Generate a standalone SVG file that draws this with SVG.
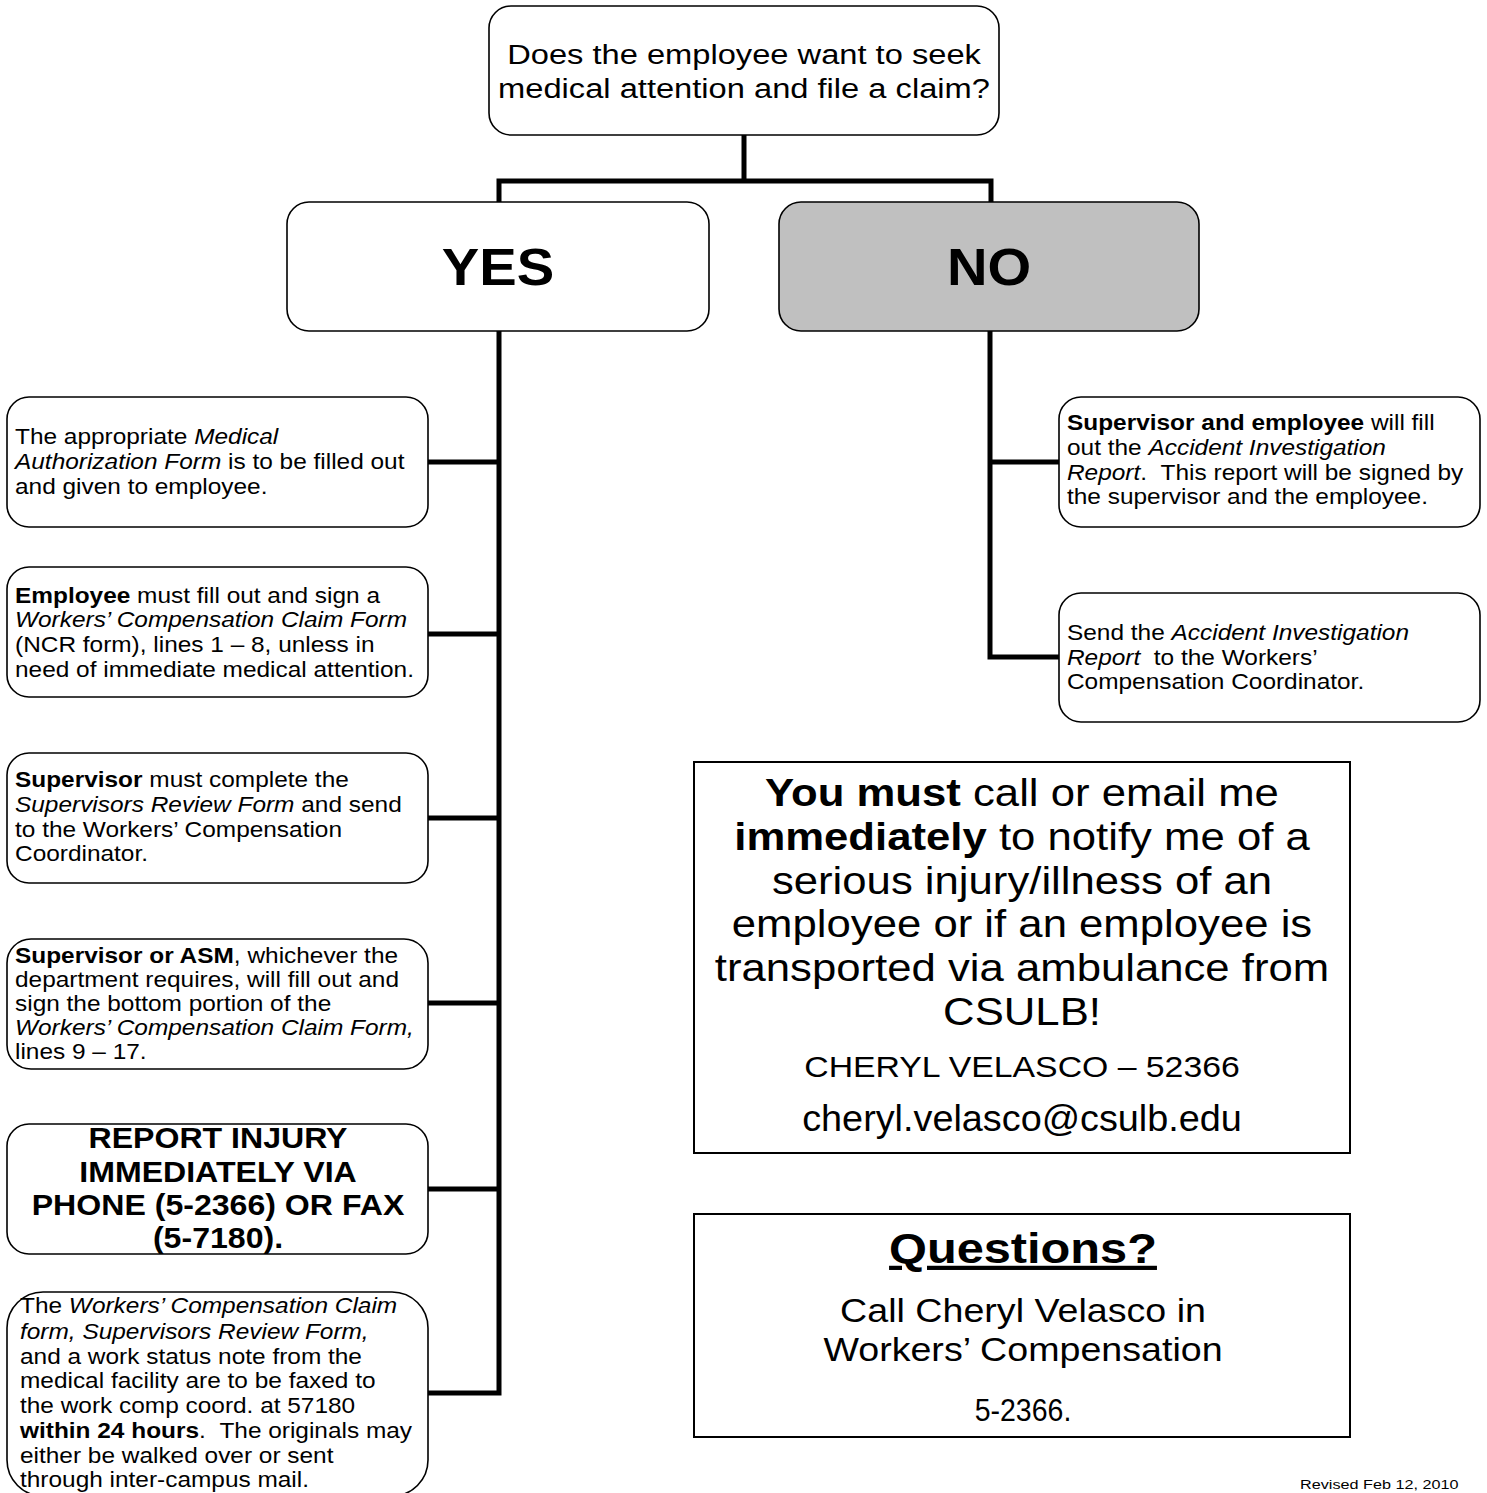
<svg xmlns="http://www.w3.org/2000/svg" width="1487" height="1493" viewBox="0 0 1487 1493">
<style>
.box{fill:#fff;stroke:#000;stroke-width:1.6}
.gray{fill:#c0c0c0}
.sq{fill:#fff;stroke:#000;stroke-width:2}
.conn{stroke:#000;stroke-width:5;fill:none;stroke-linecap:square}
text{font-family:"Liberation Sans",Arial,sans-serif;fill:#000}
.s22{font-size:22px}
.b{font-weight:bold}
.i{font-style:italic}
</style>
<rect width="1487" height="1493" fill="#fff"/>
<g id="connectors">
<path class="conn" d="M744 135 V181 M499 181 H991 M499 181 V202 M991 181 V202"/>
<path class="conn" d="M499 331 V1393 M428 462 H499 M428 634 H499 M428 818 H499 M428 1003 H499 M428 1189 H499 M428 1393 H499"/>
<path class="conn" d="M990 331 V657 M990 462 H1059 M990 657 H1059"/>
</g>
<g id="question">
<rect class="box" x="489" y="6" width="510" height="129" rx="22"/>
<g transform="translate(744 0) scale(1.21 1)">
<text x="0" y="64" font-size="27" text-anchor="middle">Does the employee want to seek</text>
<text x="0" y="98" font-size="27" text-anchor="middle">medical attention and file a claim?</text>
</g>
</g>
<g id="yes">
<rect class="box" x="287" y="202" width="422" height="129" rx="22"/>
<text transform="translate(498 285) scale(1.08 1)" x="0" y="0" font-size="52" class="b" text-anchor="middle">YES</text>
</g>
<g id="no">
<rect class="box gray" x="779" y="202" width="420" height="129" rx="22"/>
<text transform="translate(989 285) scale(1.08 1)" x="0" y="0" font-size="52" class="b" text-anchor="middle">NO</text>
</g>
<g id="yes1">
<rect class="box" x="7" y="397" width="421" height="130" rx="22"/>
<g transform="matrix(1.11 0 0 1 -1.65 0)" class="s22">
<text x="15" y="444">The appropriate <tspan class="i">Medical</tspan></text>
<text x="15" y="469"><tspan class="i">Authorization Form</tspan> is to be filled out</text>
<text x="15" y="494">and given to employee.</text>
</g>
</g>
<g id="yes2">
<rect class="box" x="7" y="567" width="421" height="130" rx="22"/>
<g transform="matrix(1.11 0 0 1 -1.65 0)" class="s22">
<text x="15" y="603"><tspan class="b">Employee</tspan> must fill out and sign a</text>
<text x="15" y="627" class="i">Workers’ Compensation Claim Form</text>
<text x="15" y="652">(NCR form), lines 1 – 8, unless in</text>
<text x="15" y="677">need of immediate medical attention.</text>
</g>
</g>
<g id="yes3">
<rect class="box" x="7" y="753" width="421" height="130" rx="22"/>
<g transform="matrix(1.11 0 0 1 -1.65 0)" class="s22">
<text x="15" y="787"><tspan class="b">Supervisor</tspan> must complete the</text>
<text x="15" y="812"><tspan class="i">Supervisors Review Form</tspan> and send</text>
<text x="15" y="837">to the Workers’ Compensation</text>
<text x="15" y="861">Coordinator.</text>
</g>
</g>
<g id="yes4">
<rect class="box" x="7" y="939" width="421" height="130" rx="24"/>
<g transform="matrix(1.11 0 0 1 -1.65 0)" class="s22">
<text x="15" y="963"><tspan class="b">Supervisor or ASM</tspan>, whichever the</text>
<text x="15" y="987">department requires, will fill out and</text>
<text x="15" y="1011">sign the bottom portion of the</text>
<text x="15" y="1035" class="i">Workers’ Compensation Claim Form,</text>
<text x="15" y="1059">lines 9 – 17.</text>
</g>
</g>
<g id="yes5">
<rect class="box" x="7" y="1124" width="421" height="130" rx="22"/>
<g transform="translate(218 0) scale(1.07 1)" class="b">
<text x="0" y="1148" font-size="30" text-anchor="middle">REPORT INJURY</text>
<text x="0" y="1182" font-size="30" text-anchor="middle">IMMEDIATELY VIA</text>
<text x="0" y="1215" font-size="30" text-anchor="middle">PHONE (5-2366) OR FAX</text>
<text x="0" y="1248" font-size="30" text-anchor="middle">(5-7180).</text>
</g>
</g>
<g id="yes6">
<rect class="box" x="7" y="1292" width="421" height="204" rx="36"/>
<g transform="matrix(1.11 0 0 1 -2.2 0)" class="s22">
<text x="20" y="1313">The <tspan class="i">Workers’ Compensation Claim</tspan></text>
<text x="20" y="1339" class="i">form, Supervisors Review Form,</text>
<text x="20" y="1364">and a work status note from the</text>
<text x="20" y="1388">medical facility are to be faxed to</text>
<text x="20" y="1413">the work comp coord. at 57180</text>
<text x="20" y="1438"><tspan class="b">within 24 hours</tspan>. &#160;The originals may</text>
<text x="20" y="1463">either be walked over or sent</text>
<text x="20" y="1487">through inter-campus mail.</text>
</g>
</g>
<g id="no1">
<rect class="box" x="1059" y="397" width="421" height="130" rx="22"/>
<g transform="matrix(1.11 0 0 1 -117.37 0)" class="s22">
<text x="1067" y="430"><tspan class="b">Supervisor and employee</tspan> will fill</text>
<text x="1067" y="455">out the <tspan class="i">Accident Investigation</tspan></text>
<text x="1067" y="480"><tspan class="i">Report</tspan>. &#160;This report will be signed by</text>
<text x="1067" y="504">the supervisor and the employee.</text>
</g>
</g>
<g id="no2">
<rect class="box" x="1059" y="593" width="421" height="129" rx="22"/>
<g transform="matrix(1.11 0 0 1 -117.37 0)" class="s22">
<text x="1067" y="640">Send the <tspan class="i">Accident Investigation</tspan></text>
<text x="1067" y="665"><tspan class="i">Report</tspan> &#160;to the Workers’</text>
<text x="1067" y="689">Compensation Coordinator.</text>
</g>
</g>
<g id="notice">
<rect class="sq" x="694" y="762" width="656" height="391"/>
<g transform="translate(1022 0) scale(1.15 1)">
<text x="0" y="806" font-size="38" text-anchor="middle"><tspan class="b">You must</tspan> call or email me</text>
<text x="0" y="850" font-size="38" text-anchor="middle"><tspan class="b">immediately</tspan> to notify me of a</text>
<text x="0" y="894" font-size="38" text-anchor="middle">serious injury/illness of an</text>
<text x="0" y="937" font-size="38" text-anchor="middle">employee or if an employee is</text>
<text x="0" y="981" font-size="38" text-anchor="middle">transported via ambulance from</text>
<text x="0" y="1025" font-size="38" text-anchor="middle">CSULB!</text>
</g>
<text transform="translate(1022 1077) scale(1.165 1)" x="0" y="0" font-size="29" text-anchor="middle">CHERYL VELASCO – 52366</text>
<text transform="translate(1022 1131) scale(1.05 1)" x="0" y="0" font-size="36" text-anchor="middle">cheryl.velasco@csulb.edu</text>
</g>
<g id="questions">
<rect class="sq" x="694" y="1214" width="656" height="223"/>
<text transform="translate(1023 1263) scale(1.16 1)" x="0" y="0" font-size="42" class="b" text-anchor="middle" text-decoration="underline">Questions?</text>
<g transform="translate(1023 0) scale(1.14 1)">
<text x="0" y="1322" font-size="33" text-anchor="middle">Call Cheryl Velasco in</text>
<text x="0" y="1361" font-size="33" text-anchor="middle">Workers’ Compensation</text>
</g>
<text transform="translate(1023 1421) scale(0.92 1)" x="0" y="0" font-size="31" text-anchor="middle">5-2366.</text>
</g>
<text transform="translate(1300 1489) scale(1.2 1)" x="0" y="0" font-size="13.5">Revised Feb 12, 2010</text>
</svg>
